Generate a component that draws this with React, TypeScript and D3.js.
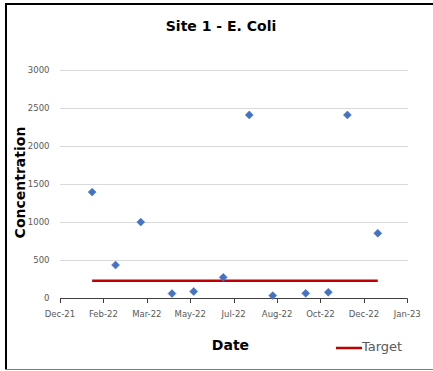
import React from "react";
import * as d3 from "d3";

const W = 433;
const H = 371;

const sampleDates = [
  "2022-01-24", "2022-02-20", "2022-03-21", "2022-04-26", "2022-05-21", "2022-06-24",
  "2022-07-24", "2022-08-20", "2022-09-27", "2022-10-23", "2022-11-14", "2022-12-19",
];
const concentration = [1400, 440, 1005, 65, 92, 278, 2415, 38, 68, 82, 2415, 858];
const targetValue = 235;
const yTicks = [0, 500, 1000, 1500, 2000, 2500, 3000];
const xTickLabels = ["Dec-21", "Feb-22", "Mar-22", "May-22", "Jul-22", "Aug-22", "Oct-22", "Dec-22", "Jan-23"];
const axisStart = "2021-12-18";
const tickStepDays = 50;

export default function App() {
  const parse = d3.utcParse("%Y-%m-%d");
  const start = parse(axisStart) as Date;
  const tickDates = xTickLabels.map((_, i) => d3.utcDay.offset(start, i * tickStepDays));
  const end = tickDates[tickDates.length - 1];
  const x = d3.scaleUtc().domain([start, end]).range([60, 407.3]);
  const y = d3.scaleLinear().domain([0, 3000]).range([298.5, 70.5]);
  const dates = sampleDates.map((s) => parse(s) as Date);
  const diamond = d3.symbol(d3.symbolSquare, 31)() as string;
  const font = "'DejaVu Sans', Verdana, sans-serif";
  const targetLine = d3.line<Date>().x((d) => x(d)).y(() => y(targetValue));

  return (
    <svg width={W} height={H} style={{ position: "absolute", left: 0, top: 0 }}>
      <rect x={0} y={0} width={W} height={H} fill="#fff" />
      {/* border */}
      <line x1={6} y1={4} x2={W} y2={4} stroke="#000" strokeWidth={2} />
      <line x1={6} y1={3} x2={6} y2={370} stroke="#000" strokeWidth={2} />
      <line x1={5} y1={369.5} x2={W} y2={369.5} stroke="#7f7f7f" strokeWidth={1} />

      <text x={221} y={31} textAnchor="middle" fontFamily={font} fontWeight="bold" fontSize={14} fill="#000">
        Site 1 - E. Coli
      </text>

      {yTicks.slice(1).map((t) => (
        <line key={t} x1={60} x2={408} y1={y(t)} y2={y(t)} stroke="#d9d9d9" strokeWidth={1} />
      ))}
      {yTicks.map((t) => (
        <text key={"l" + t} x={49.5} y={y(t)} dy="0.35em" textAnchor="end" fontFamily={font} fontSize={8.5} fill="#595959">
          {t}
        </text>
      ))}

      <line x1={60} x2={407.5} y1={298.5} y2={298.5} stroke="#404040" strokeWidth={1} />
      {tickDates.map((d, i) => {
        const px = Math.round(x(d)) + 0.5;
        return (
          <g key={"t" + i}>
            <line x1={px} x2={px} y1={298.5} y2={303} stroke="#404040" strokeWidth={1} />
            <text x={x(d)} y={317} textAnchor="middle" fontFamily={font} fontSize={8.5} fill="#595959">
              {xTickLabels[i]}
            </text>
          </g>
        );
      })}

      <path d={targetLine([dates[0], dates[dates.length - 1]]) as string} stroke="#c00000" strokeWidth={2.5} fill="none" />

      {dates.map((d, i) => (
        <path
          key={"p" + i}
          d={diamond}
          transform={`translate(${x(d)},${y(concentration[i])}) rotate(45)`}
          fill="#4472c4"
          stroke="#4472c4"
          strokeWidth={0.6}
        />
      ))}

      <text x={230.5} y={350} textAnchor="middle" fontFamily={font} fontWeight="bold" fontSize={14} fill="#000">
        Date
      </text>
      <text
        transform="translate(24.5,182.5) rotate(-90)"
        textAnchor="middle"
        fontFamily={font}
        fontWeight="bold"
        fontSize={14}
        fill="#000"
      >
        Concentration
      </text>

      <line x1={336} x2={362} y1={348} y2={348} stroke="#c00000" strokeWidth={2.5} />
      <text x={362} y={351} fontFamily={font} fontSize={13} fill="#595959">
        Target
      </text>
    </svg>
  );
}
